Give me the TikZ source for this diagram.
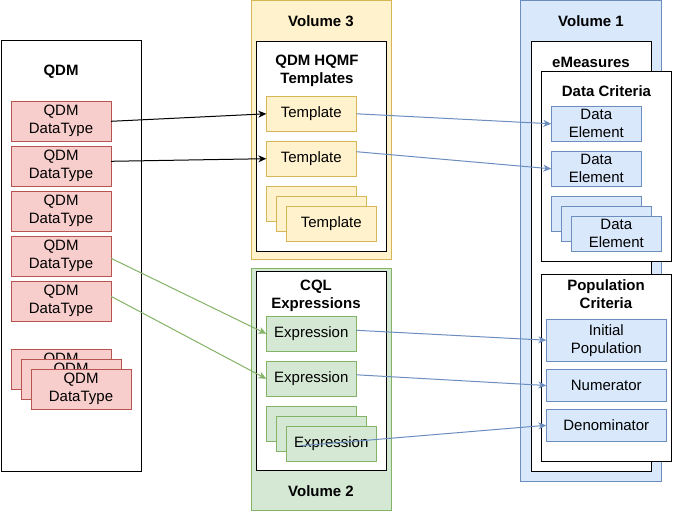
\documentclass[tikz,border=0pt]{standalone}
\usepackage{fontspec}
\setmainfont{Liberation Sans}
\usepackage{tikz}
\usetikzlibrary{arrows.meta,positioning}
\definecolor{redFill}{HTML}{F8CECC}
\definecolor{redLine}{HTML}{B85450}
\definecolor{yelFill}{HTML}{FFF2CC}
\definecolor{yelLine}{HTML}{D6B656}
\definecolor{grnFill}{HTML}{D5E8D4}
\definecolor{grnLine}{HTML}{82B366}
\definecolor{bluFill}{HTML}{DAE8FC}
\definecolor{bluLine}{HTML}{6C8EBF}

\begin{document}
\begin{tikzpicture}[
  x=1pt, y=-1pt,
  every node/.style={font=\fontsize{15}{18}\selectfont, inner sep=0pt, outer sep=0pt, line width=1pt},
  panel/.style={draw=black, fill=white},
  vol3/.style={draw=yelLine, fill=yelFill},
  vol2/.style={draw=grnLine, fill=grnFill},
  vol1/.style={draw=bluLine, fill=bluFill},
  title/.style={font=\bfseries\fontsize{15}{18}\selectfont, align=center},
  qdmtype/.style={draw=redLine, fill=redFill, align=center, minimum width=100pt, minimum height=40pt},
  tmpl/.style={draw=yelLine, fill=yelFill, align=center, minimum width=90pt, minimum height=35pt},
  expr/.style={draw=grnLine, fill=grnFill, align=center, minimum width=90pt, minimum height=35pt},
  delem/.style={draw=bluLine, fill=bluFill, align=center, minimum width=90pt, minimum height=35pt},
  popc/.style={draw=bluLine, fill=bluFill, align=center, minimum width=120pt, minimum height=32pt},
  arr/.style={-{Stealth[length=8pt,width=7pt,inset=2.5pt]}, line width=1pt},
  blk/.style={arr, color=black},
  blu/.style={arr, color=bluLine},
  grn/.style={arr, color=grnLine}
]
  \useasboundingbox (0,0) rectangle (683,513);

  % QDM column
  \node[panel, minimum width=140pt, minimum height=430pt] (qdm) at (71,256) {};
  \node[title] (qdmT) at (61,72) {QDM};
  \node[qdmtype] (dt1) at (61,121.3) {QDM\\DataType};
  \node[qdmtype] (dt2) at (61,166.3) {QDM\\DataType};
  \node[qdmtype] (dt3) at (61,211.3) {QDM\\DataType};
  \node[qdmtype] (dt4) at (61,256.3) {QDM\\DataType};
  \node[qdmtype] (dt5) at (61,301.3) {QDM\\DataType};
  \node[qdmtype] (dts1) at (61,369.3) {QDM\\DataType};
  \node[qdmtype] (dts2) at (71,379.3) {QDM\\DataType};
  \node[qdmtype] (dts3) at (81,389.3) {QDM\\DataType};

  % Volume 3
  \node[vol3, minimum width=140pt, minimum height=259pt] (v3) at (321,130.5) {};
  \node[title] (v3T) at (321,21) {Volume 3};
  \node[panel, minimum width=130pt, minimum height=210pt] (hqmf) at (321.5,146.2) {};
  \node[title] (hqmfT) at (317,70.5) {QDM HQMF\\Templates};
  \node[tmpl] (tp1) at (311.3,113.8) {Template};
  \node[tmpl] (tp2) at (311.3,158.7) {Template};
  \node[tmpl] (tps1) at (311.3,203.8) {};
  \node[tmpl] (tps2) at (321.3,213.8) {};
  \node[tmpl] (tps3) at (331.3,223.8) {Template};

  % Volume 2
  \node[vol2, minimum width=140pt, minimum height=242pt] (v2) at (321,389.9) {};
  \node[panel, minimum width=130pt, minimum height=199pt] (cql) at (321.5,371.4) {};
  \node[title] (cqlT) at (316,296) {CQL\\Expressions};
  \node[title] (v2T) at (321,491) {Volume 2};
  \node[expr] (ex1) at (311.3,333.8) {Expression};
  \node[expr] (ex2) at (311.3,378.8) {Expression};
  \node[expr] (exs1) at (311.3,423.8) {};
  \node[expr] (exs2) at (321.3,433.8) {};
  \node[expr] (exs3) at (331.3,443.8) {Expression};

  % Volume 1
  \node[vol1, minimum width=141pt, minimum height=481pt] (v1) at (591.3,241.3) {};
  \node[title] (v1T) at (591,21) {Volume 1};
  \node[panel, minimum width=120pt, minimum height=430pt] (emeas) at (591.5,256.2) {};
  \node[title] (emeasT) at (591,62) {eMeasures};
  \node[panel, minimum width=130pt, minimum height=190pt] (dcrit) at (606.5,166.2) {};
  \node[title] (dcritT) at (606.5,91) {Data Criteria};
  \node[delem] (de1) at (596.3,123.8) {Data\\Element};
  \node[delem] (de2) at (596.3,168.8) {Data\\Element};
  \node[delem] (des1) at (596.3,213.8) {};
  \node[delem] (des2) at (606.3,223.8) {};
  \node[delem] (des3) at (616.3,233.8) {Data\\Element};
  \node[panel, minimum width=130pt, minimum height=187pt] (pcrit) at (606.5,367.7) {};
  \node[title] (pcritT) at (606,294) {Population\\Criteria};
  \node[popc, minimum height=42pt] (ipop) at (606.3,340.2) {Initial\\Population};
  \node[popc] (numer) at (606.3,385.5) {Numerator};
  \node[popc] (denom) at (606.3,425.3) {Denominator};

  % connectors
  \coordinate (exsOut) at ([xshift=14pt,yshift=-2pt]exs3.west);
  \draw[blk] (dt1.east) -- (tp1.west);
  \draw[blk] ([yshift=5pt]dt2.east) -- (tp2.west);
  \draw[grn] ([yshift=-2pt]dt4.east) -- (ex1.west);
  \draw[grn] ([yshift=5pt]dt5.east) -- (ex2.west);
  \draw[blu] (tp1.east) -- (de1.west);
  \draw[blu] ([yshift=7pt]tp2.east) -- (de2.west);
  \draw[blu] ([yshift=3.5pt]ex1.east) -- (ipop.west);
  \draw[blu] ([yshift=4pt]ex2.east) -- (numer.west);
  \draw[blu] (exsOut) -- (denom.west);
\end{tikzpicture}
\end{document}
